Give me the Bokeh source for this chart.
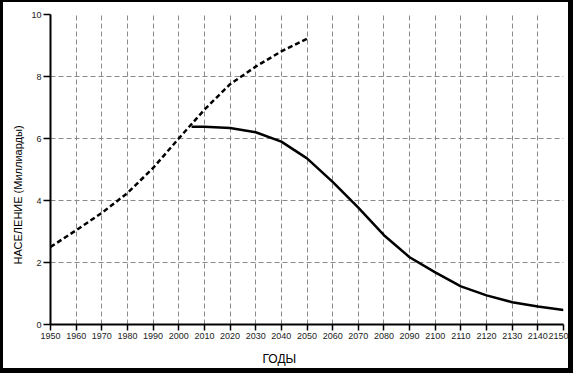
from bokeh.plotting import figure
from bokeh.models import Range1d, FixedTicker, Title
from bokeh.embed import file_html
from bokeh.resources import INLINE

# Data
proj_years = [1950, 1960, 1970, 1980, 1990, 2000, 2010, 2020, 2030, 2040, 2050]
proj_values = [2.5, 3.04, 3.6, 4.24, 5.05, 6.0, 6.93, 7.75, 8.32, 8.81, 9.22]

main_years = [2005, 2010, 2020, 2030, 2040, 2050, 2060, 2070, 2080, 2090, 2100,
              2110, 2120, 2130, 2140, 2150]
main_values = [6.38, 6.38, 6.34, 6.2, 5.9, 5.36, 4.6, 3.77, 2.88, 2.17, 1.68,
               1.23, 0.94, 0.72, 0.58, 0.47]

x_ticks = [1950, 1960, 1970, 1980, 1990, 2000, 2010, 2020, 2030, 2040, 2050,
           2060, 2070, 2080, 2090, 2100, 2110, 2120, 2130, 2140, 2150]
x_grid = x_ticks[1:-1]
y_ticks = [0, 2, 4, 6, 8, 10]
y_grid = [2, 4, 6, 8]

x_title = "ГОДЫ"
y_title = "НАСЕЛЕНИЕ (Миллиарды)"

FONT = "Liberation Sans"

p = figure(width=573, height=373, output_backend="svg", toolbar_location=None,
           x_range=Range1d(1950, 2150), y_range=Range1d(0, 10),
           min_border_left=47, min_border_right=13, min_border_top=12, min_border_bottom=51)
p.styles = {"border-style": "solid", "border-color": "black",
            "border-width": "2px 5px 5px 3px"}
p.outline_line_color = None
p.background_fill_color = "white"
p.border_fill_color = "white"

# axes
for ax in (p.xaxis[0], p.yaxis[0]):
    ax.axis_line_width = 2
    ax.axis_line_color = "black"
    ax.major_tick_out = 7
    ax.major_tick_in = 0
    ax.major_tick_line_width = 1.5
    ax.major_tick_line_color = "black"
    ax.minor_tick_line_color = None
    ax.major_label_text_font = FONT
    ax.major_label_text_font_size = "9px"
    ax.major_label_text_color = "#222222"
    ax.major_label_standoff = 2
p.xaxis[0].major_tick_out = 6
p.xaxis[0].ticker = FixedTicker(ticks=x_ticks)
p.yaxis[0].ticker = FixedTicker(ticks=y_ticks)

# grids
p.xgrid[0].ticker = FixedTicker(ticks=x_grid)
p.ygrid[0].ticker = FixedTicker(ticks=y_grid)
for g in (p.xgrid[0], p.ygrid[0]):
    g.grid_line_color = "#8a8a8a"
    g.grid_line_width = 1
    g.grid_line_dash = "5 3"

# lines
p.line(proj_years, proj_values, line_color="black", line_width=2.5, line_dash="5 3")
p.line(main_years, main_values, line_color="black", line_width=2.5)

# axis titles
p.add_layout(Title(text=x_title, align="left", offset=212, standoff=17,
                   text_font=FONT, text_font_size="12px", text_font_style="normal",
                   text_color="black"), "below")
p.add_layout(Title(text=y_title, align="left", offset=60, standoff=10,
                   text_font=FONT, text_font_size="11px", text_font_style="normal",
                   text_color="black"), "left")

open("out.html", "w").write(file_html(p, INLINE))
